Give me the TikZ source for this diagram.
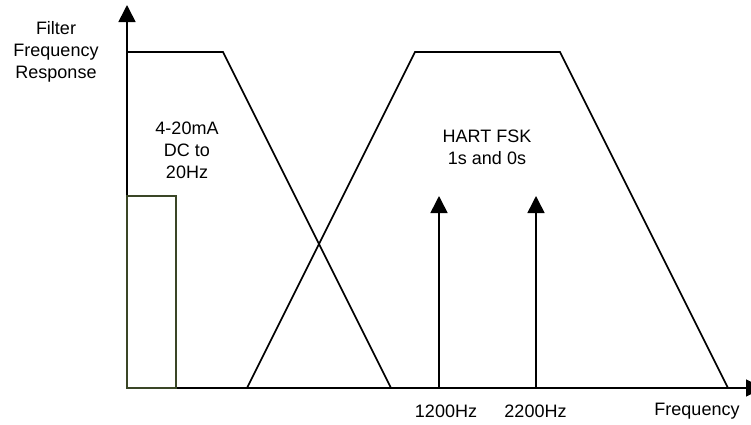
\documentclass[tikz,border=0pt]{standalone}
\usepackage{fontspec}
\setmainfont{Liberation Sans}
\usetikzlibrary{arrows.meta}
\definecolor{olivebox}{RGB}{58,70,38}
\tikzset{
  axisline/.style={line width=1.6pt, -{Triangle[width=17pt,length=17pt]}},
  curve/.style={line width=1.6pt, line join=miter},
  lbl/.style={font=\fontsize{18}{22}\selectfont, align=center, inner sep=0pt},
}
\begin{document}
\begin{tikzpicture}[x=1pt,y=-1pt]
\useasboundingbox (0,0) rectangle (751,424);
\coordinate (O) at (127,388);
\coordinate (ytop) at (127,5);
\coordinate (xend) at (763,388);
% filters
\draw[curve] (127,52) coordinate (l1) -- (223,52) coordinate (l2) -- (391,388) coordinate (l3);
\draw[curve] (247,388) coordinate (r1) -- (415,52) coordinate (r2) -- (560,52) coordinate (r3) -- (728,388) coordinate (r4);
% axes
\draw[axisline] (O) -- (ytop);
\draw[axisline] (O) -- (xend);
% passband box
\draw[line width=1.6pt, draw=olivebox] (127,196) rectangle (176,388);
% tone arrows
\coordinate (a1) at (439,388);
\coordinate (a1t) at (439,196);
\coordinate (a2) at (536,388);
\coordinate (a2t) at (536,196);
\draw[axisline] (a1) -- (a1t);
\draw[axisline] (a2) -- (a2t);
% labels
\node[lbl] (ylab) at (56,52) {Filter\\Frequency\\Response};
\node[lbl] (dc) at (187,150) {4-20mA\\DC to\\20Hz};
\node[lbl] (hart) at (487,147) {HART FSK\\1s and 0s};
\node[lbl] (f1) at (446,411) {1200Hz};
\node[lbl] (f2) at (535.5,411) {2200Hz};
\node[lbl] (xlab) at (697,411) {Frequency};
\end{tikzpicture}
\end{document}
